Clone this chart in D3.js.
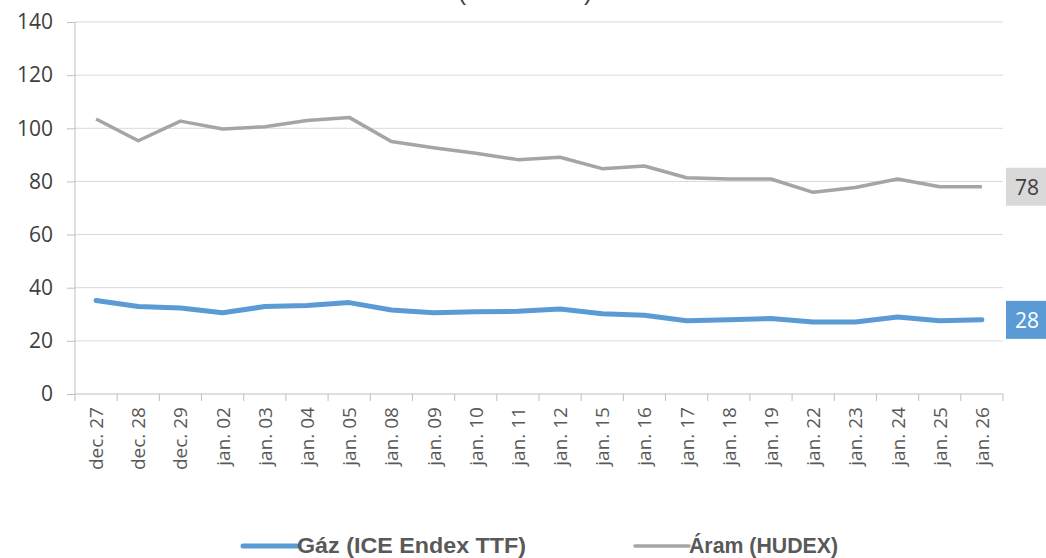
<!DOCTYPE html>
<html>
<head>
<meta charset="utf-8">
<script src="https://cdn.jsdelivr.net/npm/d3@7"></script>
<style>
  body { margin: 0; background: #fff; }
  svg { display: block; }
</style>
</head>
<body>
<svg id="chart" width="1046" height="558"></svg>
<script>
const categories = ["dec. 27", "dec. 28", "dec. 29", "jan. 02", "jan. 03", "jan. 04", "jan. 05",
  "jan. 08", "jan. 09", "jan. 10", "jan. 11", "jan. 12", "jan. 15", "jan. 16", "jan. 17",
  "jan. 18", "jan. 19", "jan. 22", "jan. 23", "jan. 24", "jan. 25", "jan. 26"];
const gaz = [35.2, 32.9, 32.4, 30.6, 32.9, 33.3, 34.4, 31.6, 30.6, 31.0, 31.1, 32.0, 30.2, 29.6,
  27.6, 27.9, 28.4, 27.1, 27.1, 29.0, 27.6, 27.9];
const aram = [103.5, 95.3, 102.7, 99.7, 100.6, 102.9, 104.1, 95.0, 92.7, 90.6, 88.2, 89.1, 84.8,
  85.8, 81.4, 80.9, 80.9, 75.9, 77.7, 80.9, 78.0, 78.0];
const yTicks = [0, 20, 40, 60, 80, 100, 120, 140];
const seriesNames = ["Gáz (ICE Endex TTF)", "Áram (HUDEX)"];

const svg = d3.select("#chart");
const margin = { top: 22, right: 43, bottom: 164, left: 75 },
  width = 1046 - margin.left - margin.right,
  height = 558 - margin.top - margin.bottom;

const x = d3.scaleBand().domain(categories).range([0, width]);
const y = d3.scaleLinear().domain([0, 140]).range([height, 0]);

// title, only its lower edge shows at the top (as in the original)
svg.append("text")
  .attr("x", 525).attr("y", 0)
  .attr("text-anchor", "middle")
  .style("font-family", "Liberation Sans, sans-serif")
  .style("font-size", "25px")
  .style("fill", "#404040")
  .text("(EUR/MWh)");

const g = svg.append("g")
  .attr("transform", "translate(" + margin.left + "," + margin.top + ")");

// gridlines
g.append("g")
  .selectAll("line")
  .data(yTicks.filter(d => d > 0))
  .join("line")
  .attr("x1", 0).attr("x2", width)
  .attr("y1", d => y(d)).attr("y2", d => y(d))
  .attr("stroke", "#d9d9d9").attr("stroke-width", 1);

// y axis
const yAxis = g.append("g")
  .call(d3.axisLeft(y).tickValues(yTicks).tickSize(8).tickPadding(14));
yAxis.select(".domain").attr("stroke", "#bfbfbf").attr("d", "M0," + height + "V0");
yAxis.selectAll(".tick line").attr("stroke", "#bfbfbf");
yAxis.selectAll("text")
  .style("font-family", "Open Sans, sans-serif")
  .style("font-size", "21px")
  .style("fill", "#404040");

// x axis with ticks on band boundaries
const xAxis = g.append("g")
  .attr("transform", "translate(0," + height + ")");
xAxis.append("line")
  .attr("x1", 0).attr("x2", width)
  .attr("stroke", "#bfbfbf");
xAxis.selectAll(".btick")
  .data(categories.concat(["end"]))
  .join("line")
  .attr("class", "btick")
  .attr("x1", (d, i) => i < categories.length ? x(d) : width)
  .attr("x2", (d, i) => i < categories.length ? x(d) : width)
  .attr("y1", 0).attr("y2", 7)
  .attr("stroke", "#bfbfbf");
xAxis.selectAll(".lbl")
  .data(categories)
  .join("text")
  .attr("class", "lbl")
  .attr("transform", d => "translate(" + (x(d) + x.bandwidth() / 2 + 7) + ",13) rotate(-90)")
  .attr("text-anchor", "end")
  .style("font-family", "Open Sans, sans-serif")
  .style("font-size", "19px")
  .style("fill", "#595959")
  .text(d => d);

const line = d3.line()
  .x((d, i) => x(categories[i]) + x.bandwidth() / 2)
  .y(d => y(d));

g.append("path")
  .datum(aram)
  .attr("fill", "none")
  .attr("stroke", "#a5a5a5")
  .attr("stroke-width", 3.5)
  .attr("stroke-linejoin", "round")
  .attr("d", line);

g.append("path")
  .datum(gaz)
  .attr("fill", "none")
  .attr("stroke", "#5b9bd5")
  .attr("stroke-width", 5)
  .attr("stroke-linejoin", "round")
  .attr("stroke-linecap", "round")
  .attr("d", line);

// end labels
const endLabels = [
  { v: aram[aram.length - 1], fill: "#d9d9d9", color: "#404040" },
  { v: gaz[gaz.length - 1], fill: "#5b9bd5", color: "#ffffff" }
];
const lab = g.selectAll(".endlab")
  .data(endLabels)
  .join("g")
  .attr("class", "endlab")
  .attr("transform", d => "translate(" + (width + 3) + "," + y(d.v) + ")");
lab.append("rect")
  .attr("x", 0).attr("y", -19)
  .attr("width", 50).attr("height", 38)
  .attr("fill", d => d.fill);
lab.append("text")
  .attr("x", 9).attr("y", 8)
  .style("font-family", "Open Sans, sans-serif")
  .style("font-size", "21px")
  .style("fill", d => d.color)
  .text(d => Math.round(d.v));

// legend
const legend = [
  { name: seriesNames[0], color: "#5b9bd5", w: 5, x0: 243, x1: 297, tw: 229 },
  { name: seriesNames[1], color: "#a5a5a5", w: 3.5, x0: 635, x1: 689, tw: 149 }
];
const lg = svg.selectAll(".lg")
  .data(legend)
  .join("g")
  .attr("class", "lg");
lg.append("line")
  .attr("x1", d => d.x0).attr("x2", d => d.x1)
  .attr("y1", 546).attr("y2", 546)
  .attr("stroke", d => d.color)
  .attr("stroke-width", d => d.w)
  .attr("stroke-linecap", "round");
lg.append("text")
  .attr("x", d => d.x1).attr("y", 553)
  .attr("textLength", d => d.tw)
  .attr("lengthAdjust", "spacingAndGlyphs")
  .style("font-family", "Liberation Sans, sans-serif")
  .style("font-weight", "bold")
  .style("font-size", "22px")
  .style("fill", "#595959")
  .text(d => d.name);
</script>
</body>
</html>
